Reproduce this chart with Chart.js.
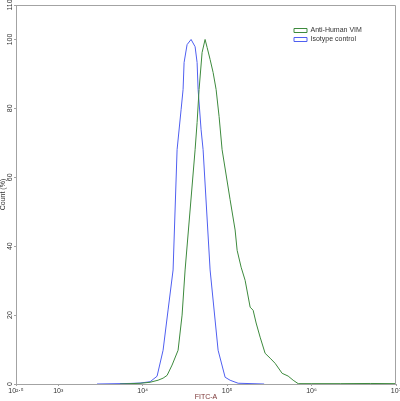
<!DOCTYPE html>
<html>
<head>
<meta charset="utf-8">
<script src="https://cdn.jsdelivr.net/npm/chart.js@4.4.1/dist/chart.umd.min.js"></script>
<style>
html,body{margin:0;padding:0;background:#fff;}
#wrap{width:400px;height:401px;}
</style>
</head>
<body>
<div id="wrap"><canvas id="c" width="400" height="401"></canvas></div>
<script>
// ---- data ----
const seriesNames = ['Anti-Human VIM', 'Isotype control'];

const vimX = [5397, 9316, 12240, 15220, 17450, 19460, 22300, 26270, 29300, 31800, 36450, 41770, 44110, 46580, 50540, 54860, 57940, 62900, 68270, 74060, 80380, 87250, 108500, 124400, 131400, 146500, 163400, 187300, 203300, 220600, 246000, 282000, 323200, 370400, 448300, 528000, 605300, 694000, 989000, 2182000, 4946000, 10000000];
const vimY = [0, 0.2, 0.5, 1.1, 1.7, 2.5, 5.5, 9.8, 20.0, 33.1, 50.5, 68.0, 75.9, 85.5, 96.2, 100, 97.7, 94.2, 90.4, 85.5, 77.6, 68.0, 53.5, 44.7, 38.8, 33.9, 30.1, 22.3, 21.4, 17.7, 13.6, 8.9, 7.5, 6.0, 3.1, 2.3, 1.1, 0.1, 0.1, 0.1, 0.15, 0.1];

const isoX = [2882, 7090, 9316, 12240, 14810, 17450, 20000, 22920, 25560, 28510, 30100, 30940, 33570, 37450, 41770, 44110, 45330, 49190, 51950, 62900, 78220, 94690, 108500, 135000, 274400];
const isoY = [0, 0.16, 0.28, 0.65, 2.25, 9.8, 21.5, 33.1, 68.0, 79.6, 85.5, 93.3, 98.5, 100, 97.9, 93.3, 85.5, 73.8, 68.0, 33.1, 9.8, 1.96, 1.09, 0.22, 0];

const xTickValues = [316.2278, 1000, 10000, 100000, 1000000, 10000000];
const xTickLabels = ['10²·⁵', '10³', '10⁴', '10⁵', '10⁶', '10⁷'];
const yTickValues = [0, 20, 40, 60, 80, 100, 110];

const xTitle = 'FITC-A';
const yTitle = 'Count (%)';

// ---- chart ----
const toPts = (xs, ys) => xs.map((x, i) => ({x: x, y: ys[i]}));
const axisGray = '#a3a3a3';
const fontFam = '"Liberation Sans", Arial, sans-serif';

const framePlugin = {
  id: 'frame',
  afterDatasetsDraw(chart) {
    const a = chart.chartArea, ctx = chart.ctx;
    ctx.save();
    ctx.strokeStyle = axisGray;
    ctx.lineWidth = 1;
    ctx.beginPath();
    ctx.moveTo(a.left, a.top + 0.5);
    ctx.lineTo(a.right - 0.5, a.top + 0.5);
    ctx.lineTo(a.right - 0.5, a.bottom);
    ctx.stroke();
    ctx.restore();
  }
};

const legendPlace = {
  id: 'legendPlace',
  afterLayout(chart) {
    const lg = chart.legend;
    if (!lg) return;
    const a = chart.chartArea;
    lg.left = a.right - 104;
    lg.right = lg.left + lg.width;
    lg.top = a.top + 20;
    lg.bottom = lg.top + 60;
  }
};

new Chart(document.getElementById('c'), {
  type: 'line',
  data: {
    datasets: [
      {
        label: seriesNames[0],
        data: toPts(vimX, vimY),
        borderColor: '#3d8a3d',
        backgroundColor: 'rgba(255,255,255,1)',
        borderWidth: 1,
        pointRadius: 0,
        tension: 0,
        fill: false
      },
      {
        label: seriesNames[1],
        data: toPts(isoX, isoY),
        borderColor: '#4f5ff0',
        backgroundColor: 'rgba(255,255,255,1)',
        borderWidth: 1,
        pointRadius: 0,
        tension: 0,
        fill: false
      }
    ]
  },
  options: {
    responsive: false,
    animation: false,
    events: [],
    layout: {padding: {left: 0, right: 4, top: 5, bottom: 0}},
    plugins: {
      legend: {
        display: true,
        position: 'chartArea',
        align: 'start',
        labels: {
          boxWidth: 13,
          boxHeight: 4,
          padding: 2,
          color: '#333',
          font: {family: fontFam, size: 7}
        }
      },
      tooltip: {enabled: false}
    },
    scales: {
      x: {
        type: 'logarithmic',
        position: 'bottom',
        min: xTickValues[0],
        max: xTickValues[xTickValues.length - 1],
        afterBuildTicks: (s) => { s.ticks = xTickValues.map(v => ({value: v})); },
        afterFit: (s) => { s.height = 17; s.paddingLeft = 0; s.paddingRight = 0; },
        ticks: {
          autoSkip: false,
          maxRotation: 0,
          minRotation: 0,
          padding: 1,
          color: '#333',
          font: {family: fontFam, size: 7},
          callback: (v, i) => xTickLabels[i]
        },
        grid: {display: true, drawOnChartArea: false, drawTicks: true, tickLength: 2, color: axisGray},
        border: {display: true, color: axisGray, width: 1},
        title: {display: true, text: xTitle, color: '#7a3434', font: {family: fontFam, size: 7, lineHeight: 1}, padding: 0}
      },
      y: {
        type: 'linear',
        position: 'left',
        min: 0,
        max: 110,
        afterBuildTicks: (s) => { s.ticks = yTickValues.map(v => ({value: v})); },
        afterFit: (s) => { s.width = 16; },
        ticks: {
          autoSkip: false,
          minRotation: 90,
          maxRotation: 90,
          crossAlign: 'center',
          padding: -2,
          color: '#333',
          font: {family: fontFam, size: 7}
        },
        grid: {display: true, drawOnChartArea: false, drawTicks: true, tickLength: 2, color: axisGray},
        border: {display: true, color: axisGray, width: 1},
        title: {display: true, text: yTitle, color: '#333', font: {family: fontFam, size: 7, lineHeight: 1}, padding: 0}
      }
    }
  },
  plugins: [framePlugin, legendPlace]
});
</script>
</body>
</html>
